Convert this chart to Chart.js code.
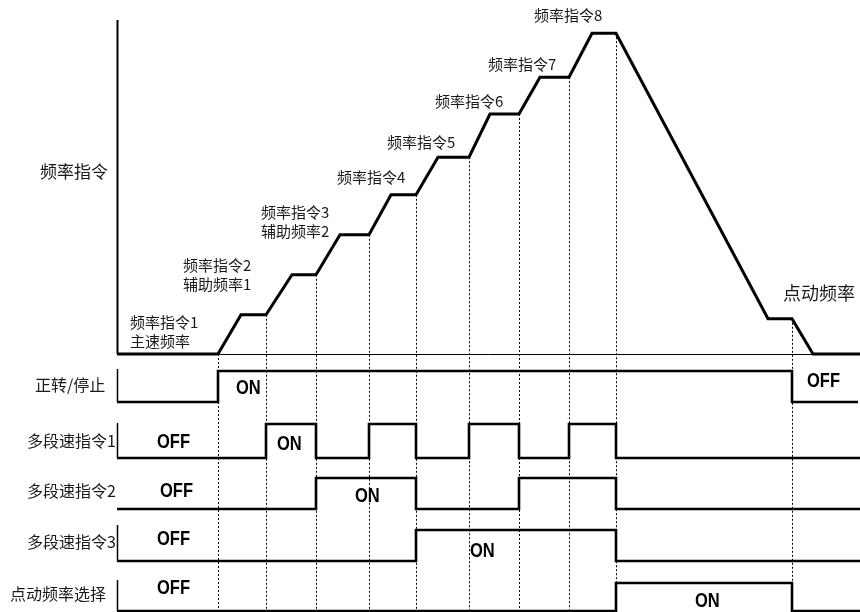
<!DOCTYPE html>
<html><head><meta charset="utf-8">
<script src="https://cdn.jsdelivr.net/npm/chart.js@4/dist/chart.umd.min.js"></script>
<style>html,body{margin:0;padding:0;background:#fff}#wrap{width:860px;height:612px}</style>
</head><body><div id="wrap"><canvas id="c" width="860" height="612"></canvas></div>
<script>
// ---- data (time in arbitrary units, frequency in Hz, signals 0=OFF 1=ON) ----
const freqTimes  = [0, 20.2, 24.8, 29.8, 35, 39.8, 44.6, 50.4, 54.8, 59.8, 64.2, 70.4, 74.6, 80.4, 84.6, 90.4, 95, 99.8, 130.2, 135, 139.2, 148.6];
const freqValues = [0, 0, 4.9, 4.9, 9.9, 9.9, 14.9, 14.9, 19.9, 19.9, 24.6, 24.6, 30, 30, 34.6, 34.6, 40.1, 40.1, 4.4, 4.4, 0, 0];
const freqMax = 41.75;

const signalNames = ['正转/停止', '多段速指令1', '多段速指令2', '多段速指令3', '点动频率选择'];
const runTimes  = [0, 20.2, 135, 148.2];
const runStates = [0, 1, 0, 0];
const ms1Times  = [0, 29.8, 39.8, 50.4, 59.8, 70.4, 80.4, 90.4, 99.8, 148.6];
const ms1States = [0, 1, 0, 1, 0, 1, 0, 1, 0, 0];
const ms2Times  = [0, 39.8, 59.8, 80.4, 99.8, 148.6];
const ms2States = [0, 1, 0, 1, 0, 0];
const ms3Times  = [0, 59.8, 99.8, 148.6];
const ms3States = [0, 1, 0, 0];
const jogTimes  = [0, 99.8, 135, 148.6];
const jogStates = [0, 1, 0, 0];

const markerTimes = [20.2, 29.8, 39.8, 50.4, 59.8, 70.4, 80.4, 90.4, 99.8, 135];

const freqLabels = [
  ['频率指令1', '主速频率'], ['频率指令2', '辅助频率1'], ['频率指令3', '辅助频率2'],
  ['频率指令4'], ['频率指令5'], ['频率指令6'], ['频率指令7'], ['频率指令8']
];
const axisTitle = '频率指令';
const jogLabel = '点动频率';

// ---- layout (pixels) ----
const rowLow  = [402, 458, 509, 561, 611];
const rowHigh = [371, 424, 478, 530, 583];
const rowAxisTop = [369, 423, null, 525, 580];
const signalLabelPos = [[35, 385], [27, 441], [27, 491], [27, 542], [10, 594]];
const freqLabelPos = [[130, 322], [183, 265], [261, 212], [337, 177], [387, 142], [435, 101], [488, 64], [534, 15]];
const stateLabels = [
  ['ON', 236, 387], ['OFF', 807, 380],
  ['OFF', 157, 441], ['ON', 277, 443],
  ['OFF', 160, 490], ['ON', 355, 495],
  ['OFF', 157, 538], ['ON', 470, 550],
  ['OFF', 157, 587], ['ON', 695, 600]
];
const TOP = 20, BOTTOM = 612, H = BOTTOM - TOP;
const FREQ_BASE_PX = 354;

function pts(ts, vs) { return ts.map((t, i) => ({x: t, y: vs[i]})); }
function freqAt(t) {
  for (let i = 1; i < freqTimes.length; i++) {
    if (t <= freqTimes[i]) {
      const t0 = freqTimes[i-1], t1 = freqTimes[i];
      const f = t1 === t0 ? 0 : (t - t0) / (t1 - t0);
      return freqValues[i-1] + f * (freqValues[i] - freqValues[i-1]);
    }
  }
  return 0;
}

const sigTimes = [runTimes, ms1Times, ms2Times, ms3Times, jogTimes];
const sigStates = [runStates, ms1States, ms2States, ms3States, jogStates];

const scales = {
  x: {type: 'linear', min: 0, max: 148.6, display: false},
  yf: (() => {
    const u = (FREQ_BASE_PX - TOP) / freqMax;
    const min = -(BOTTOM - FREQ_BASE_PX) / u;
    return {type: 'linear', min: min, max: min + H / u, display: false};
  })()
};
signalNames.forEach((n, i) => {
  const u = rowLow[i] - rowHigh[i];
  const min = -(BOTTOM - rowLow[i]) / u;
  scales['s' + i] = {type: 'linear', min: min, max: min + H / u, display: false};
});

const datasets = [{
  label: axisTitle, data: pts(freqTimes, freqValues), yAxisID: 'yf',
  borderColor: '#000', borderWidth: 3, pointRadius: 0, borderJoinStyle: 'miter', tension: 0
}];
signalNames.forEach((n, i) => {
  datasets.push({
    label: n, data: pts(sigTimes[i], sigStates[i]), yAxisID: 's' + i,
    borderColor: '#000', borderWidth: 2.6, pointRadius: 0, stepped: true, borderJoinStyle: 'miter'
  });
});

const overlay = {
  id: 'overlay',
  beforeDatasetsDraw(chart) {
    const {ctx, chartArea, scales: s} = chart;
    ctx.save();
    // frequency zero line
    const y0 = Math.round(s.yf.getPixelForValue(0)) + 0.5;
    ctx.strokeStyle = '#000'; ctx.lineWidth = 1;
    ctx.beginPath(); ctx.moveTo(chartArea.left, y0); ctx.lineTo(chartArea.right, y0); ctx.stroke();
    // dotted time markers
    ctx.setLineDash([2, 2]); ctx.strokeStyle = '#000'; ctx.lineWidth = 1;
    markerTimes.forEach(t => {
      const px = Math.round(s.x.getPixelForValue(t)) + 0.5;
      const py = s.yf.getPixelForValue(freqAt(t));
      ctx.beginPath(); ctx.moveTo(px, py); ctx.lineTo(px, chartArea.bottom); ctx.stroke();
    });
    ctx.setLineDash([]);
    // frequency axis
    const ax = chartArea.left + 0.5;
    ctx.lineWidth = 2; ctx.strokeStyle = '#000';
    ctx.beginPath(); ctx.moveTo(ax, s.yf.getPixelForValue(freqMax)); ctx.lineTo(ax, s.yf.getPixelForValue(0)); ctx.stroke();
    // signal axis stubs
    ctx.lineWidth = 1.5;
    signalNames.forEach((n, i) => {
      if (rowAxisTop[i] == null) return;
      ctx.beginPath(); ctx.moveTo(ax, rowAxisTop[i]); ctx.lineTo(ax, s['s' + i].getPixelForValue(0)); ctx.stroke();
    });
    ctx.restore();
  },
  afterDraw(chart) {
    const ctx = chart.ctx;
    ctx.save();
    ctx.fillStyle = '#1a1a1a';
    ctx.textBaseline = 'middle';
    ctx.textAlign = 'left';
    const cjk = '"Noto Sans CJK SC", "Noto Sans", sans-serif';
    ctx.font = '17px ' + cjk;
    ctx.fillText(axisTitle, 40, 172);
    ctx.font = '18px ' + cjk;
    ctx.fillText(jogLabel, 783, 293);
    ctx.font = '15px ' + cjk;
    freqLabels.forEach((lines, i) => {
      lines.forEach((ln, j) => ctx.fillText(ln, freqLabelPos[i][0], freqLabelPos[i][1] + j * 19));
    });
    ctx.font = '16px ' + cjk;
    signalNames.forEach((n, i) => ctx.fillText(n, signalLabelPos[i][0], signalLabelPos[i][1]));
    // condensed bold ON/OFF
    ctx.font = 'bold 20px "Liberation Sans", Arial, sans-serif';
    ctx.fillStyle = '#000';
    const sx = 33 / ctx.measureText('OFF').width;
    stateLabels.forEach(([t, x, y]) => {
      ctx.save();
      ctx.translate(x, y + 1);
      ctx.scale(sx, 1);
      ctx.fillText(t, 0, 0);
      ctx.restore();
    });
    ctx.restore();
  }
};

new Chart(document.getElementById('c'), {
  type: 'line',
  data: {datasets},
  options: {
    responsive: false, animation: false, devicePixelRatio: 1,
    layout: {padding: {left: 117, top: TOP, right: 0, bottom: 0}},
    scales,
    plugins: {legend: {display: false}, tooltip: {enabled: false}},
    elements: {line: {capBezierPoints: false}}
  },
  plugins: [overlay]
});
</script>
</body></html>
